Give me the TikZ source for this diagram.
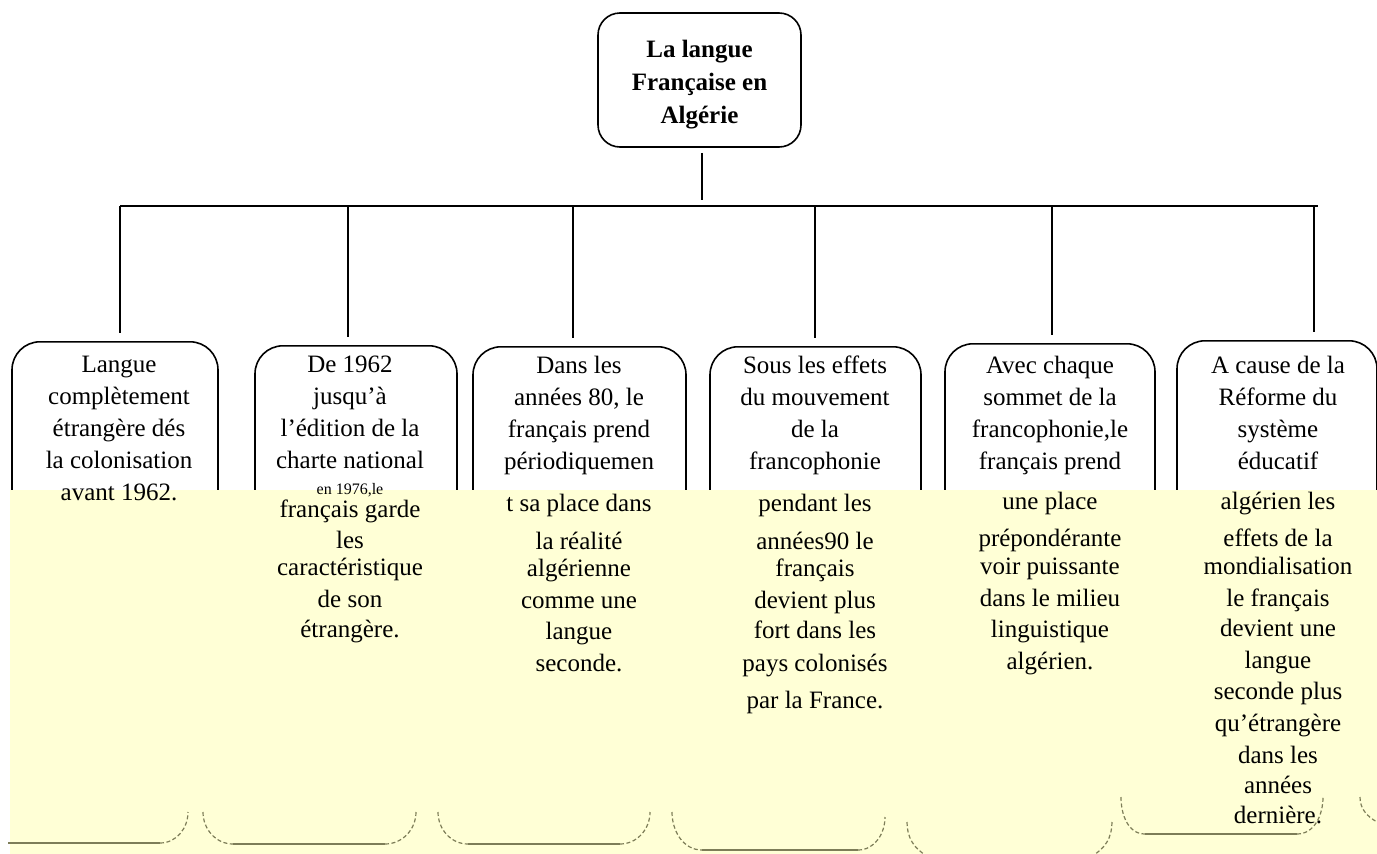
\documentclass[tikz,border=0pt]{standalone}
\usepackage{fontspec}
\setmainfont{Liberation Serif}
\usetikzlibrary{calc,positioning}
\definecolor{paleyellow}{RGB}{255,255,214}
\definecolor{scanolive}{RGB}{125,125,88}
\tikzset{
  topbox/.style={draw,line width=1.6pt,rounded corners=22pt,minimum width=203pt,minimum height=134pt,align=center,inner sep=0pt,font=\fontsize{25}{33}\selectfont\bfseries},
  branchbox/.style={draw,line width=1.6pt,rounded corners=28pt,inner sep=0pt},
  itemtext/.style={anchor=north,align=center,inner sep=0pt,font=\fontsize{25}{32}\selectfont},
  busline/.style={line width=1.2pt},
  bottomline/.style={scanolive,line width=1.4pt},
  bottomdash/.style={scanolive,line width=1.2pt,dash pattern=on 4pt off 2.5pt}
}

\begin{document}
\begin{tikzpicture}[x=1pt,y=-1pt]
\useasboundingbox (0,0) rectangle (1377,854);

\node[topbox] (title) at (699.5,80) {\rule{0pt}{27pt}La langue\\Française en\\Algérie};

% the six boxes (lower part is hidden by the yellow band)
\foreach \n/\x/\t/\w/\h in
{1/115/341/206/502,
    2/356/345/202/500,
    3/579.5/346/213/497,
    4/815.5/346/211/504,
    5/1050/343/210/510,
    6/1277/340/200/495
}
{
    \node[branchbox,anchor=north,minimum width=\w pt,minimum height=\h pt] (box\n) at (\x,\t) {};
};

\coordinate (stem) at (702,200);
\draw[line width=2.2pt,shorten <=5pt] (title.south -| stem) -- (stem);

\foreach \n/\x in {1/120,2/348,3/573,4/815,5/1052,6/1314}
{
    \coordinate (drop\n) at (\x,206);
    \draw[busline,shorten >=8pt] (drop\n) -- (drop\n |- box\n.north);
};
\draw[busline] (drop1) -- ([xshift=4pt]drop6);

\fill[paleyellow] (10,490) rectangle (1377,854);

% box bottoms as seen through the band
\draw[bottomline] (8,843) -- (160,843);
\draw[bottomdash] (160,843) to[out=0,in=-90] (188,812);
\draw[bottomdash] (203,812) to[out=-90,in=180] (233,844);
\draw[bottomline] (233,844) -- (385,844);
\draw[bottomdash] (385,844) to[out=0,in=-90] (416,812);
\draw[bottomdash] (438,812) to[out=-90,in=180] (468,844);
\draw[bottomline] (468,844) -- (620,844);
\draw[bottomdash] (620,844) to[out=0,in=-90] (650,812);
\draw[bottomdash] (672,812) to[out=-90,in=180] (702,850);
\draw[bottomline] (702,850) -- (858,850);
\draw[bottomdash] (858,850) to[out=0,in=-90] (885,817);
\draw[bottomdash] (907,822) to[out=-90,in=150] (927,856);
\draw[bottomdash] (1112,822) to[out=-90,in=30] (1092,856);
\draw[bottomdash] (1121,797) to[out=-90,in=180] (1145,834);
\draw[bottomline] (1145,834) -- (1297,834);
\draw[bottomdash] (1297,834) to[out=0,in=-90] (1323,797);
\draw[bottomdash] (1360,797) to[out=-90,in=150] (1377,822);

\node[itemtext] (item1) at (119,356) {Langue\\complètement\\étrangère dés\\la colonisation\\avant 1962.};
\node[itemtext] (item2) at (350,356) {De 1962\\jusqu’à\\l’édition de la\\charte national\\[-6pt]
    {\fontsize{16}{18}\selectfont en 1976,le}\\[-9pt]
    français garde\\[-1pt]les\\[-5pt]caractéristique\\de son\\[-2pt]étrangère.};
\node[itemtext] (item3) at (579,356) {Dans les\\années 80, le\\français prend\\périodiquemen\\[10pt]
    t sa place dans\\[6pt]la réalité\\[-5pt]algérienne\\comme une\\[-1pt]langue\\seconde.};
\node[itemtext] (item4) at (815,356) {Sous les effets\\du mouvement\\de la\\francophonie\\[10pt]
    pendant les\\[6pt]années90 le\\[-5pt]français\\devient plus\\[-2pt]fort dans les\\[1pt]pays colonisés\\[5pt]par la France.};
\node[itemtext] (item5) at (1050,356) {Avec chaque\\sommet de la\\francophonie,le\\français prend\\[8pt]
    une place\\[5pt]prépondérante\\[-4pt]voir puissante\\dans le milieu\\[-1pt]linguistique\\algérien.};
\node[itemtext] (item6) at (1278,356) {A cause de la\\Réforme du\\système\\éducatif\\[8pt]
    algérien les\\[5pt]effets de la\\[-4pt]mondialisation\\le français\\[-2pt]devient une\\langue\\[-1pt]seconde plus\\qu’étrangère\\dans les\\[-2pt]années\\[-2pt]dernière.};

\end{tikzpicture}
\end{document}
